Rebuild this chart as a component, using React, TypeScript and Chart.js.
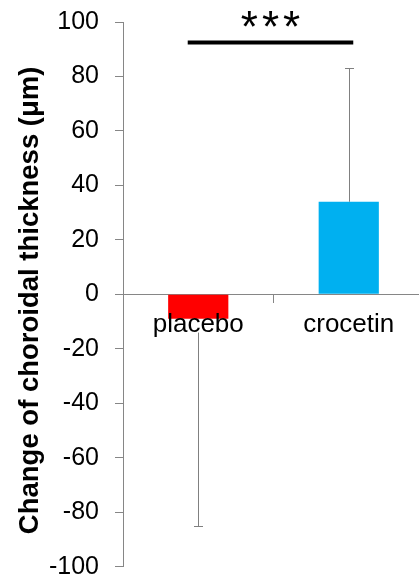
import React, { useEffect, useRef } from 'react';
import { Chart, registerables } from 'chart.js';

Chart.register(...registerables);

const categories = ['placebo', 'crocetin'];
const meanChange = [-9, 34];
const sdChange = [76, 49];
const barColors = ['#FF0000', '#00B0F0'];
const yMin = -100;
const yMax = 100;
const yStep = 20;
const yTitle = 'Change of choroidal thickness (μm)';
const sigLabel = '***';
const sigFrom = -0.07;
const sigTo = 1.03;
const sigLevel = 92.5;
const sigTextLevel = 92.5;

const FONT = '"Liberation Sans", Arial, sans-serif';
const AXIS_GREY = '#868686';
const ERR_GREY = '#808080';

const errorBarsPlugin = {
  id: 'errorBars',
  afterDatasetsDraw(chart: any) {
    const ctx = chart.ctx;
    const yScale = chart.scales.y;
    const meta = chart.getDatasetMeta(0);
    ctx.save();
    ctx.strokeStyle = ERR_GREY;
    ctx.lineWidth = 1;
    meta.data.forEach((bar: any, i: number) => {
      const v = meanChange[i];
      const e = sdChange[i];
      const end = v >= 0 ? v + e : v - e;
      const x = Math.round(bar.x) + 0.5;
      const y0 = yScale.getPixelForValue(v);
      const y1 = Math.round(yScale.getPixelForValue(end)) + 0.5;
      ctx.beginPath();
      ctx.moveTo(x, y0);
      ctx.lineTo(x, y1);
      ctx.moveTo(x - 4.5, y1);
      ctx.lineTo(x + 4.5, y1);
      ctx.stroke();
    });
    ctx.restore();
  },
  afterDraw(chart: any) {
    const ctx = chart.ctx;
    const xScale = chart.scales.x;
    const yScale = chart.scales.y;
    const x0 = xScale.getPixelForValue(sigFrom);
    const x1 = xScale.getPixelForValue(sigTo);
    const yl = yScale.getPixelForValue(sigLevel);
    ctx.save();
    ctx.strokeStyle = '#000';
    ctx.lineWidth = 4;
    ctx.beginPath();
    ctx.moveTo(x0, yl);
    ctx.lineTo(x1, yl);
    ctx.stroke();
    const tx = xScale.getPixelForValue((sigFrom + sigTo) / 2);
    const ty = yScale.getPixelForValue(sigTextLevel);
    ctx.fillStyle = '#000';
    ctx.font = '44px ' + FONT;
    (ctx as any).letterSpacing = '4px';
    ctx.textAlign = 'center';
    ctx.textBaseline = 'alphabetic';
    ctx.fillText(sigLabel, tx + 2, ty);
    ctx.restore();

    // y-axis title, rotated, centred on the text block of the reference
    const yArea = chart.chartArea;
    ctx.save();
    ctx.fillStyle = '#000';
    ctx.font = 'bold 27.5px ' + FONT;
    ctx.textAlign = 'center';
    ctx.textBaseline = 'alphabetic';
    ctx.translate(38, (yArea.top + yArea.bottom) / 2 + 6);
    ctx.rotate(-Math.PI / 2);
    ctx.fillText(yTitle, 0, 0);
    ctx.restore();
  },
};

export default function App() {
  const ref = useRef<HTMLCanvasElement | null>(null);

  useEffect(() => {
    if (!ref.current) return;
    const chart = new Chart(ref.current, {
      type: 'bar',
      data: {
        labels: categories,
        datasets: [
          {
            data: meanChange,
            backgroundColor: barColors,
            borderWidth: 0,
            barPercentage: 0.4,
            categoryPercentage: 1,
          },
        ],
      },
      options: {
        responsive: false,
        animation: false,
        devicePixelRatio: 1,
        layout: { padding: { left: 0, right: 6, top: 22, bottom: 9.3 } },
        plugins: {
          legend: { display: false },
          tooltip: { enabled: false },
        },
        scales: {
          x: {
            type: 'category',
            position: { y: 0 } as any,
            offset: true,
            grid: {
              offset: true,
              drawOnChartArea: false,
              drawTicks: true,
              tickLength: 8,
              color: AXIS_GREY,
            },
            border: { display: true, color: AXIS_GREY, width: 1 },
            ticks: {
              z: 1,
              color: '#000',
              padding: 7,
              font: { family: FONT, size: 26, lineHeight: 1.2 },
              showLabelBackdrop: true,
              backdropColor: '#FFFFFF',
              backdropPadding: { top: -10, bottom: -8, left: 2, right: 2 },
              maxRotation: 0,
            } as any,
            afterFit: (scale: any) => {
              scale.paddingLeft = 0;
              scale.paddingRight = 0;
              scale.paddingTop = 0;
              scale.paddingBottom = 0;
            },
          },
          y: {
            type: 'linear',
            min: yMin,
            max: yMax,
            grid: {
              drawOnChartArea: false,
              drawTicks: true,
              tickLength: 8,
              color: AXIS_GREY,
            },
            border: { display: true, color: AXIS_GREY, width: 1 },
            ticks: {
              stepSize: yStep,
              color: '#000',
              padding: 16,
              font: { family: FONT, size: 25 },
            },
            title: { display: false, text: yTitle },
            afterFit: (scale: any) => {
              scale.width = 123;
              scale.paddingTop = 0;
              scale.paddingBottom = 0;
            },
          },
        },
      },
      plugins: [errorBarsPlugin],
    });
    return () => chart.destroy();
  }, []);

  return (
    <div
      style={{
        position: 'fixed',
        left: 0,
        top: 0,
        width: 419,
        height: 576,
        overflow: 'hidden',
        background: '#fff',
      }}
    >
      <canvas ref={ref} width={430} height={576} style={{ display: 'block', width: 430, height: 576 }} />
    </div>
  );
}
